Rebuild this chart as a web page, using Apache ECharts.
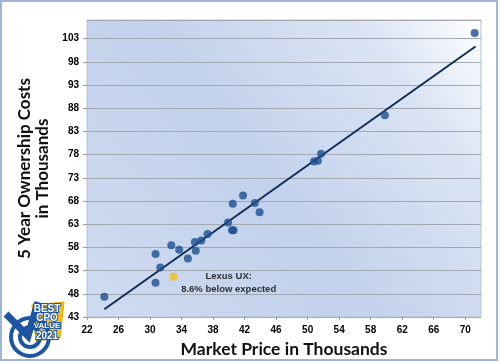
<!DOCTYPE html>
<html><head><meta charset="utf-8">
<script src="https://cdn.jsdelivr.net/npm/echarts@6/dist/echarts.min.js"></script>
<style>html,body{margin:0;padding:0;background:#fff}#c{width:500px;height:363px}</style>
</head><body><div id="c"></div>
<script>
const marketPrice = [24.2, 30.7, 30.7, 31.3, 32.7, 33.7, 34.8, 35.7, 35.8, 36.5, 37.3, 39.9, 40.4, 40.6, 40.5, 41.8, 43.3, 43.9, 50.8, 51.3, 51.7, 59.8, 71.2];
const ownershipCost = [47.4, 56.6, 50.4, 53.7, 58.5, 57.5, 55.6, 59.2, 57.3, 59.5, 60.9, 63.4, 61.7, 61.7, 67.4, 69.2, 67.6, 65.6, 76.5, 76.7, 78.2, 86.5, 104.2];
const lexusUX = [[33.0, 51.7]];
const trendLine = [[24.2, 44.7], [71.3, 101.3]];
const yTicks = [43, 48, 53, 58, 63, 68, 73, 78, 83, 88, 93, 98, 103];
const xTicks = [22, 26, 30, 34, 38, 42, 46, 50, 54, 58, 62, 66, 70];
const lexusLabel = ['Lexus UX:', '8.6% below expected'];

const chart = echarts.init(document.getElementById('c'), null, {renderer: 'canvas'});
const FONT = 'Lato';
const SMALL = 'Liberation Sans';
chart.setOption({
  backgroundColor: '#fff',
  animation: false,
  grid: {
    left: 87, top: 20, right: 19, bottom: 41, show: true,
    borderColor: '#b4c0d4', borderWidth: 1,
    backgroundColor: {
      type: 'linear', x: 0, y: 1, x2: 1, y2: 0,
      colorStops: [
        {offset: 0, color: '#cfdbf0'},
        {offset: 0.45, color: '#c2d1ec'},
        {offset: 0.8, color: '#dbe4f4'},
        {offset: 1, color: '#ffffff'}
      ]
    }
  },
  xAxis: {
    type: 'value', min: 22, max: 72, interval: 4,
    name: 'Market Price in Thousands', nameLocation: 'middle', nameGap: 22,
    nameTextStyle: {fontFamily: FONT, fontWeight: 'bold', fontSize: 17.5, color: '#111'},
    axisLine: {show: false},
    axisTick: {show: true, length: 3, lineStyle: {color: '#9a9a9a'}},
    splitLine: {show: false},
    axisLabel: {
      showMaxLabel: false, margin: 8,
      fontFamily: SMALL, fontWeight: 'bold', fontSize: 10, color: '#000',
      formatter: v => xTicks.includes(v) ? String(v) : ''
    }
  },
  yAxis: {
    type: 'value', min: 43, max: 107, interval: 5,
    name: '5 Year Ownership Costs\nin Thousands', nameLocation: 'middle', nameGap: 25,
    nameRotate: 90,
    nameTextStyle: {fontFamily: FONT, fontWeight: 'bold', fontSize: 17, color: '#111', lineHeight: 18},
    axisLine: {show: false},
    axisTick: {show: true, length: 4, lineStyle: {color: '#9a9a9a'}},
    splitLine: {show: true, lineStyle: {color: '#a2a7b0', width: 1}},
    axisLabel: {
      showMaxLabel: false, margin: 8,
      fontFamily: SMALL, fontWeight: 'bold', fontSize: 10, color: '#000',
      formatter: v => yTicks.includes(v) ? String(v) : ''
    }
  },
  series: [
    {
      type: 'line', data: trendLine, symbol: 'none',
      lineStyle: {color: '#0f2d55', width: 2}, z: 2
    },
    {
      type: 'scatter', data: marketPrice.map((x, i) => [x, ownershipCost[i]]),
      symbolSize: 8, itemStyle: {color: '#1d4f8f'}, z: 3
    },
    {
      type: 'scatter', data: lexusUX, symbolSize: 8,
      itemStyle: {color: '#f6bd16'}, z: 3,
      label: {
        show: true, position: 'inside', offset: [55, 6],
        formatter: lexusLabel.join('\n'), align: 'center',
        fontFamily: SMALL, fontWeight: 'bold', fontSize: 9.5, lineHeight: 13, color: '#000'
      }
    }
  ],
  graphic: [
    {type: 'rect', shape: {x: 1, y: 1, width: 496, height: 359}, style: {fill: 'none', stroke: '#9fb6d8', lineWidth: 2}, silent: true},
    {type: 'group', children: [
      {type: 'polygon', shape: {points: [[32,305],[64,302],[60,338],[36,341]]}, style: {fill: '#f2c21b', stroke: '#d9a800', lineWidth: 1}},
      {type: 'circle', shape: {cx: 30, cy: 337, r: 19}, style: {fill: 'none', stroke: '#1f54a3', lineWidth: 4}},
      {type: 'circle', shape: {cx: 30, cy: 337, r: 10}, style: {fill: 'none', stroke: '#1f54a3', lineWidth: 4}},
      {type: 'polyline', shape: {points: [[6,314],[28,336],[38,302]]}, style: {stroke: '#1f54a3', lineWidth: 7, fill: 'none'}},
      {type: 'text', style: {x: 47, y: 304, text: 'BEST', font: 'bold 10px "Liberation Sans"', fill: '#fff', stroke: '#1f54a3', lineWidth: 2, align: 'center'}},
      {type: 'text', style: {x: 47, y: 313, text: 'CPO', font: 'bold 10px "Liberation Sans"', fill: '#fff', stroke: '#1f54a3', lineWidth: 2, align: 'center'}},
      {type: 'text', style: {x: 47, y: 322, text: 'VALUE', font: 'bold 8px "Liberation Sans"', fill: '#fff', stroke: '#1f54a3', lineWidth: 2, align: 'center'}},
      {type: 'text', style: {x: 47, y: 331, text: '2021', font: 'bold 10px "Liberation Sans"', fill: '#fff', stroke: '#1f54a3', lineWidth: 2, align: 'center'}}
    ]}
  ]
});
</script></body></html>
